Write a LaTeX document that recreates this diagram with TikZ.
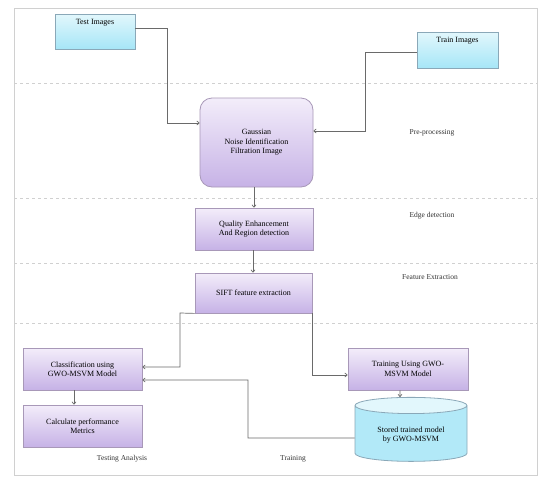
\documentclass[tikz,border=0pt]{standalone}
\usepackage{fontspec}
\setmainfont{Liberation Serif}
\usetikzlibrary{shapes.geometric,arrows.meta}
\definecolor{lineg}{HTML}{6A6A6A}
\definecolor{lanec}{HTML}{D0D0D0}
\definecolor{cyantop}{HTML}{E2F7FC}
\definecolor{cyanbot}{HTML}{A6E6F7}
\definecolor{cyanbd}{HTML}{8AA8B8}
\definecolor{purtop}{HTML}{F3EDFA}
\definecolor{purbot}{HTML}{C6B2E6}
\definecolor{purbd}{HTML}{A898B8}
\tikzset{
  imgbox/.style={draw=cyanbd, top color=cyantop, bottom color=cyanbot, line width=0.8pt},
  procbox/.style={draw=purbd, top color=purtop, bottom color=purbot, line width=0.8pt, align=center, font=\fontsize{8}{9.5}\selectfont, inner sep=2pt},
  conn/.style={draw=lineg, line width=0.7pt, -{To[length=3pt,width=4.5pt]}},
  lane/.style={draw=lanec, dashed, line width=0.5pt},
  lanelabel/.style={font=\fontsize{7.5}{9}\selectfont, text=black!80}
}
\begin{document}
\begin{tikzpicture}[x=1pt,y=-1pt]
\useasboundingbox (0,0) rectangle (542,477);
\fill[white] (0,0) rectangle (542,477);
% frame and lanes
\draw[draw=lanec, line width=0.6pt] (14,8) rectangle (537,475);
\foreach \yy in {83,198,263,323} \draw[lane] (14,\yy) -- (537,\yy);
% image boxes
\node[imgbox, minimum width=80pt, minimum height=35pt, inner sep=0pt,
      label={[anchor=north, yshift=-2pt, font=\fontsize{8}{9}\selectfont]north:Test Images}] (test) at (95,31.5) {};
\node[imgbox, minimum width=81pt, minimum height=36pt, inner sep=0pt,
      label={[anchor=north, yshift=-2pt, font=\fontsize{8}{9}\selectfont]north:Train Images}] (train) at (457.5,50) {};
% process boxes
\node[procbox, rounded corners=12pt, minimum width=113pt, minimum height=89pt] (gauss) at (256.5,142.5) {Gaussian\\Noise Identification\\Filtration Image};
\node[procbox, minimum width=118pt, minimum height=42pt] (qual) at (254,229) {Quality Enhancement\\And Region detection};
\node[procbox, minimum width=117pt, minimum height=40pt] (sift) at (253.5,293) {SIFT feature extraction};
\node[procbox, minimum width=119pt, minimum height=42pt] (cls) at (82.5,369) {Classification using\\GWO-MSVM Model};
\node[procbox, minimum width=119pt, minimum height=42pt] (calc) at (82.5,426) {Calculate performance\\Metrics};
\node[procbox, minimum width=120pt, minimum height=42pt] (trn) at (408,369) {Training Using GWO-\\MSVM Model};
\node[cylinder, shape border rotate=90, aspect=0.22, draw=cyanbd, line width=0.8pt,
      cylinder uses custom fill, cylinder body fill=cyanbot!80!cyantop, cylinder end fill=cyantop,
      minimum width=112pt, minimum height=64pt, align=center, font=\fontsize{8}{9.5}\selectfont] (store) at (411,435) {Stored trained model\\by GWO-MSVM};
% lane labels
\node[lanelabel] (lpre) at (432,133) {Pre-processing};
\node[lanelabel] (ledge) at (432,216) {Edge detection};
\node[lanelabel] (lfeat) at (430,277) {Feature Extraction};
\node[lanelabel] (ltest) at (122,459) {Testing Analysis};
\node[lanelabel] (ltrain) at (293,459) {Training};
% connectors
\coordinate (t1) at (167,28);
\draw[conn] ([yshift=3.5pt]test.east) -- (t1) |- ([yshift=19.5pt]gauss.west);
\coordinate (r1) at (365,52);
\draw[conn] ([yshift=-2pt]train.west) -- (r1) |- ([yshift=11.5pt]gauss.east);
\draw[conn] ([xshift=-2.5pt]gauss.south) -- ([xshift=0pt]qual.north);
\draw[conn] ([xshift=-1pt]qual.south) -- ([xshift=-0.5pt]sift.north);
\coordinate (s1) at (180,313);
\draw[conn] (sift.south west) -- (s1) |- ([yshift=2pt]cls.east);
\draw[conn] (sift.south east) |- ([yshift=-6pt]trn.west);
\draw[conn] ([xshift=-8pt]trn.south) -- ([xshift=-11pt]store.north);
\coordinate (c1) at (248,438);
\draw[conn] ([yshift=-3pt]store.west) -- (c1) |- ([yshift=-11pt]cls.east);
\draw[conn] ([xshift=-8.5pt]cls.south) -- ([xshift=-8.5pt]calc.north);
\end{tikzpicture}
\end{document}
